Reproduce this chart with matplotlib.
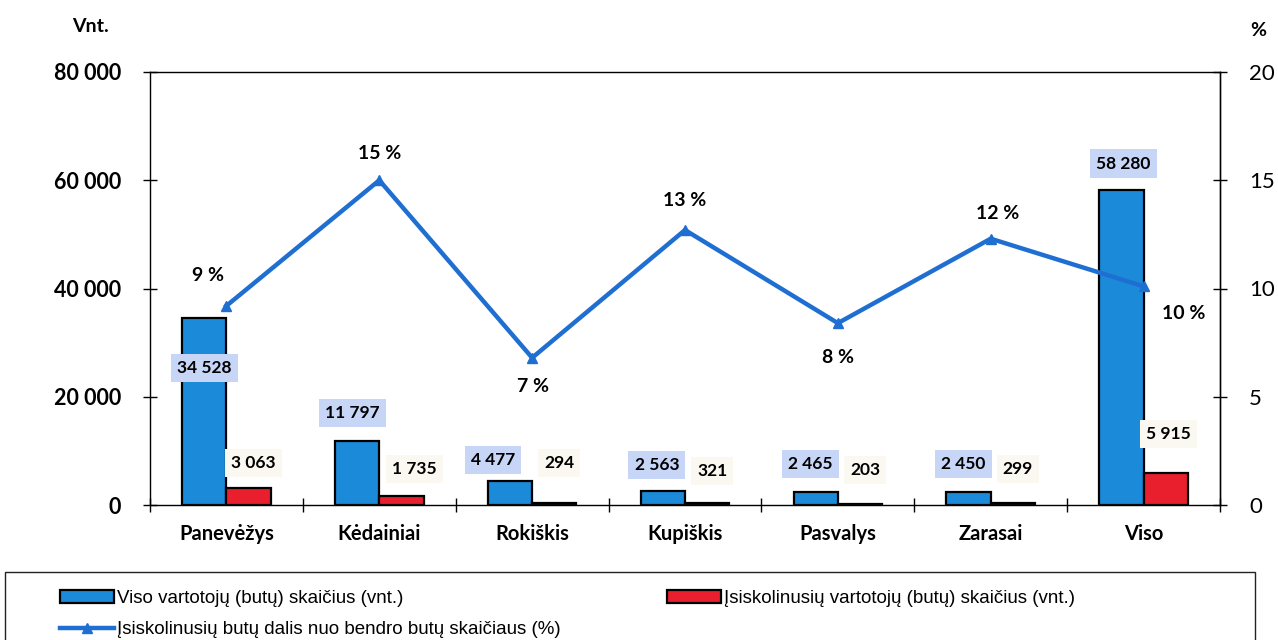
import numpy as np
import matplotlib
matplotlib.use("Agg")
import matplotlib.pyplot as plt
from matplotlib.lines import Line2D
from matplotlib.patches import Patch, Rectangle

plt.rcParams["font.family"] = ["Lato", "DejaVu Sans"]

# --- data ---
CITIES = ["Panevėžys", "Kėdainiai", "Rokiškis", "Kupiškis", "Pasvalys", "Zarasai", "Viso"]
total_flats = [34528, 11797, 4477, 2563, 2465, 2450, 58280]
debtor_flats = [3063, 1735, 294, 321, 203, 299, 5915]
debt_share = [9.2, 15.0, 6.8, 12.7, 8.4, 12.3, 10.1]
share_labels = ["9 %", "15 %", "7 %", "13 %", "8 %", "12 %", "10 %"]

# label offsets (pixels) relative to the top of each mark
blue_off = [(0, -50), (-5, 28), (-17, 21), (-6, 26), (-5, 28), (-5, 28), (2, 26)]
red_off = [(5, 25), (13, 27), (5, 40), (5, 32), (5, 34), (5, 34), (3, 39)]
pct_off = [(-18, 30), (0, 27), (1, -29), (0, 30), (0, -34), (7, 25), (40, -27)]

BLUE = "#1b8ad8"
RED = "#ea1f2e"
LINE = "#1f6fd2"

def fmt(v):
    return f"{v:,}".replace(",", " ")

fig = plt.figure(figsize=(12.78, 6.4), dpi=100)
ax = fig.add_axes([150 / 1278, 1 - 505 / 640, 1070 / 1278, 433 / 640])
ax2 = ax.twinx()

x = np.arange(len(CITIES))
w = 0.29
ax.bar(x - w / 2, total_flats, w, color=BLUE, edgecolor="black", linewidth=1.6, zorder=2)
ax.bar(x + w / 2, debtor_flats, w, color=RED, edgecolor="black", linewidth=1.6, zorder=2)

ax.set_xlim(-0.5, len(CITIES) - 0.5)
ax.set_ylim(0, 80000)
ax.set_yticks([0, 20000, 40000, 60000, 80000])
ax.set_yticklabels([fmt(v) for v in [0, 20000, 40000, 60000, 80000]],
                   fontsize=15.5, fontweight="bold")
ax.set_xticks(x)
ax.set_xticklabels(CITIES, fontsize=14.5, fontweight="bold")
ax.tick_params(axis="x", length=0, pad=14)
ax.set_xticks(np.arange(len(CITIES) + 1) - 0.5, minor=True)
ax.tick_params(axis="x", which="minor", length=10, direction="inout", width=1)
ax.tick_params(axis="y", length=10, direction="inout", width=1, pad=16)

for s in ax.spines.values():
    s.set_linewidth(1.0)
    s.set_color("#333333")

ax2.plot(x, debt_share, color=LINE, linewidth=3.2, marker="^", markersize=7, zorder=3)
ax2.set_ylim(0, 20)
ax2.set_yticks([0, 5, 10, 15, 20])
ax2.set_yticklabels(["0", "5", "10", "15", "20"], fontsize=16)
ax2.tick_params(axis="y", length=10, direction="inout", width=1, pad=16)
ax2.spines["right"].set_linewidth(1.0)

# value labels
for i in range(len(CITIES)):
    ax.annotate(fmt(total_flats[i]), (x[i] - w / 2, total_flats[i]),
                xytext=blue_off[i], textcoords="offset pixels",
                ha="center", va="center", fontsize=12.5, fontweight="bold",
                bbox=dict(boxstyle="square,pad=0.35", fc="#c7d6f6", ec="none"),
                zorder=5)
    ax.annotate(fmt(debtor_flats[i]), (x[i] + w / 2, debtor_flats[i]),
                xytext=red_off[i], textcoords="offset pixels",
                ha="center", va="center", fontsize=12.5, fontweight="bold",
                bbox=dict(boxstyle="square,pad=0.35", fc="#fbf8f1", ec="none"),
                zorder=5)
    ax2.annotate(share_labels[i], (x[i], debt_share[i]),
                 xytext=pct_off[i], textcoords="offset pixels",
                 ha="center", va="center", fontsize=14, fontweight="bold", zorder=5)

fig.text(90 / 1278, 1 - 27 / 640, "Vnt.", fontsize=14, fontweight="bold",
         ha="center", va="center")
fig.text(1258 / 1278, 1 - 30 / 640, "%", fontsize=14, fontweight="bold",
         ha="center", va="center")

# legend: frame drawn separately, two frameless legends inside it
fig.patches.append(Rectangle((5 / 1278, -0.02), 1250 / 1278, (640 - 572) / 640 + 0.02,
                             transform=fig.transFigure, fill=False,
                             edgecolor="#222222", linewidth=1.0))
leg_font = {"family": ["Liberation Sans", "DejaVu Sans"], "size": 13.5}
leg_kw = dict(frameon=False, handlelength=2.9, handletextpad=0.15,
              borderaxespad=0, borderpad=0, labelspacing=0.75, loc="upper left",
              prop=leg_font)
h_blue = Patch(facecolor=BLUE, edgecolor="black", linewidth=1.6)
h_line = Line2D([], [], color=LINE, linewidth=3.2, marker="^", markersize=7)
h_red = Patch(facecolor=RED, edgecolor="black", linewidth=1.6)
fig.legend([h_blue, h_line],
           ["Viso vartotojų (butų) skaičius (vnt.)",
            "Įsiskolinusių butų dalis nuo bendro butų skaičiaus (%)"],
           bbox_to_anchor=(60 / 1278, 1 - 590 / 640), **leg_kw)
fig.legend([h_red], ["Įsiskolinusių vartotojų (butų) skaičius (vnt.)"],
           bbox_to_anchor=(667 / 1278, 1 - 590 / 640), **leg_kw)

fig.savefig("out.png", dpi=100)
